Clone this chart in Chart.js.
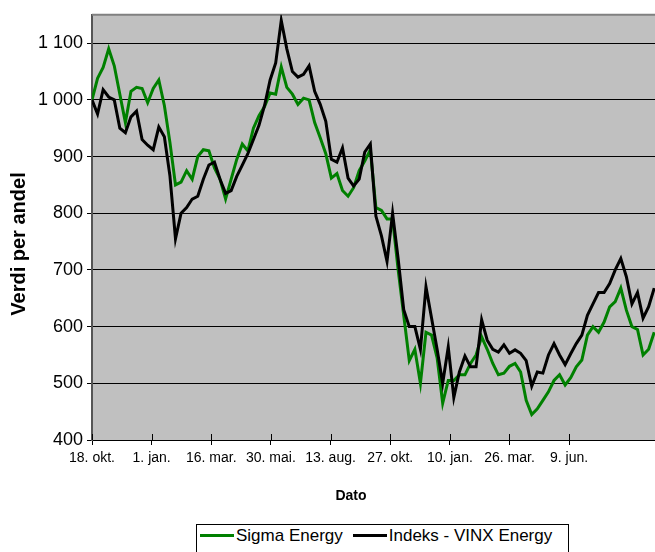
<!DOCTYPE html>
<html>
<head>
<meta charset="utf-8">
<script src="https://cdn.jsdelivr.net/npm/chart.js@4"></script>
<style>
  html, body { margin: 0; padding: 0; background: #fff; overflow: hidden; }
  #wrap { position: relative; width: 655px; height: 552px; }
  #c { position: absolute; left: 0; top: 0; }
  #legend {
    position: absolute; left: 196px; top: 524px; width: 373px; height: 40px;
    border: 1px solid #000; box-sizing: border-box; background: #fff;
    font-family: "Liberation Sans", Arial, sans-serif; font-size: 17px; color: #000;
    display: flex; align-items: flex-start; padding: 1px 0 0 3px; white-space: nowrap;
    line-height: 19px;
  }
  .item { display: flex; align-items: center; height: 19px; }
  .item + .item { margin-left: 10px; }
  .swatch { display: inline-block; width: 34px; height: 3px; margin-right: 2px; }
</style>
</head>
<body>
<div id="wrap">
  <canvas id="c" width="655" height="552"></canvas>
  <div id="legend"></div>
</div>
<script>
// ---- Data (weekly observations starting 18. okt.) ----
const seriesNames = ['Sigma Energy', 'Indeks - VINX Energy'];
const dayStep = 7; // days between observations
const xTickLabels = ['18. okt.', '1. jan.', '16. mar.', '30. mai.', '13. aug.', '27. okt.', '10. jan.', '26. mar.', '9. jun.'];
const xTickDays = [0, 75, 150, 225, 300, 375, 450, 525, 600];
const yTicks = [400, 500, 600, 700, 800, 900, 1000, 1100];
const yTickLabels = ['400', '500', '600', '700', '800', '900', '1 000', '1 100'];

const sigma = [
  1000, 1038, 1057, 1090, 1060, 1010, 960, 1015, 1022, 1020,
  995, 1020, 1035, 990, 925, 850, 855, 875, 860, 900,
  912, 910, 880, 860, 825, 860, 895, 922, 910, 950,
  972, 988, 1012, 1010, 1058, 1022, 1010, 992, 1003, 1000,
  960, 933, 905, 862, 870, 840, 830, 845, 875, 892,
  912, 810, 805, 790, 790, 700, 620, 540, 560, 500,
  590, 585, 545, 465, 505, 505, 515, 515, 535, 550,
  582, 560, 535, 515, 518, 530, 535, 520, 470, 445,
  455, 470, 485, 505, 515, 497, 510, 529, 541, 585,
  600, 590, 608, 635, 644, 668, 629, 600, 595, 550,
  560, 590
];
const vinx = [
  1000, 975, 1018, 1005, 1000, 950, 942, 970, 980, 930,
  920, 912, 952, 935, 866, 755, 800, 810, 825, 830,
  860, 885, 890, 860, 835, 840, 865, 885, 905, 930,
  955, 990, 1035, 1065, 1140, 1090, 1050, 1040, 1045, 1060,
  1015, 992, 962, 895, 890, 915, 862, 848, 860, 908,
  922, 795, 760, 715, 800, 720, 630, 600, 600, 560,
  670, 615, 560, 500, 564, 475, 520, 548, 529, 529,
  612, 576, 560, 555, 568, 553, 559, 553, 540, 495,
  520, 518, 550, 570, 550, 533, 552, 570, 585, 620,
  640, 660, 660, 676, 700, 720, 688, 640, 660, 615,
  635, 668
];
const seriesColors = ['#008000', '#000000'];

const toPoints = arr => arr.map((v, i) => ({ x: i * dayStep, y: v }));

const FONT = '"Liberation Sans", Arial, sans-serif';

const deco = {
  id: 'deco',
  beforeDraw(chart) {
    const { ctx, chartArea: a } = chart;
    ctx.save();
    ctx.fillStyle = '#c0c0c0';
    ctx.fillRect(a.left, a.top, a.right - a.left, a.bottom - a.top);
    ctx.restore();
  },
  beforeDatasetsDraw(chart) {
    const { ctx, chartArea: a, scales } = chart;
    ctx.save();
    ctx.strokeStyle = '#808080';
    ctx.lineWidth = 2;
    ctx.beginPath();
    ctx.moveTo(a.left, a.top);
    ctx.lineTo(a.right + 2, a.top);
    ctx.stroke();
    // inner half of the crossing x tick marks
    ctx.strokeStyle = '#000';
    ctx.lineWidth = 1;
    scales.x.ticks.forEach(t => {
      const px = Math.round(scales.x.getPixelForValue(t.value)) + 0.5;
      ctx.beginPath();
      ctx.moveTo(px, a.bottom - 6);
      ctx.lineTo(px, a.bottom);
      ctx.stroke();
    });
    ctx.restore();
  },
  afterDraw(chart) {
    const { ctx } = chart;
    ctx.save();
    ctx.fillStyle = '#000';
    ctx.textAlign = 'center';
    ctx.textBaseline = 'middle';
    ctx.font = 'bold 14px ' + FONT;
    ctx.fillText('Dato', 351, 496);
    ctx.font = 'bold 20px ' + FONT;
    ctx.translate(19, 244);
    ctx.rotate(-Math.PI / 2);
    ctx.fillText('Verdi per andel', 0, 0);
    ctx.restore();
  }
};

new Chart(document.getElementById('c'), {
  type: 'line',
  data: {
    datasets: [
      { label: seriesNames[0], data: toPoints(sigma), borderColor: seriesColors[0], borderWidth: 3, pointRadius: 0, tension: 0, order: 2 },
      { label: seriesNames[1], data: toPoints(vinx), borderColor: seriesColors[1], borderWidth: 3, pointRadius: 0, tension: 0, order: 1 }
    ]
  },
  options: {
    responsive: false,
    animation: false,
    events: [],
    layout: { padding: { top: 14, right: 0, bottom: 0, left: 0 } },
    plugins: { legend: { display: false }, tooltip: { enabled: false }, title: { display: false } },
    scales: {
      x: {
        type: 'linear',
        min: 0,
        max: 708,
        afterBuildTicks: s => { s.ticks = xTickDays.map(v => ({ value: v })); },
        afterFit: s => { s.height = 112; },
        ticks: {
          autoSkip: false, maxRotation: 0, padding: 5,
          color: '#000', font: { family: FONT, size: 14 },
          callback: (v, i) => xTickLabels[i]
        },
        grid: { drawOnChartArea: false, tickLength: 5, color: '#000' },
        border: { color: '#000', width: 1 }
      },
      y: {
        type: 'linear',
        min: 400,
        max: 1150,
        afterBuildTicks: s => { s.ticks = yTicks.map(v => ({ value: v })); },
        afterFit: s => { s.width = 92; },
        ticks: {
          padding: 4, color: '#000', font: { family: FONT, size: 18 },
          callback: (v, i) => yTickLabels[i]
        },
        grid: { color: '#000', tickLength: 5 },
        border: { color: '#555', width: 2 }
      }
    }
  },
  plugins: [deco]
});

// HTML legend
const lg = document.getElementById('legend');
seriesNames.forEach((n, i) => {
  const it = document.createElement('span');
  it.className = 'item';
  const sw = document.createElement('span');
  sw.className = 'swatch';
  sw.style.background = seriesColors[i];
  it.appendChild(sw);
  it.appendChild(document.createTextNode(n));
  lg.appendChild(it);
});
</script>
</body>
</html>
